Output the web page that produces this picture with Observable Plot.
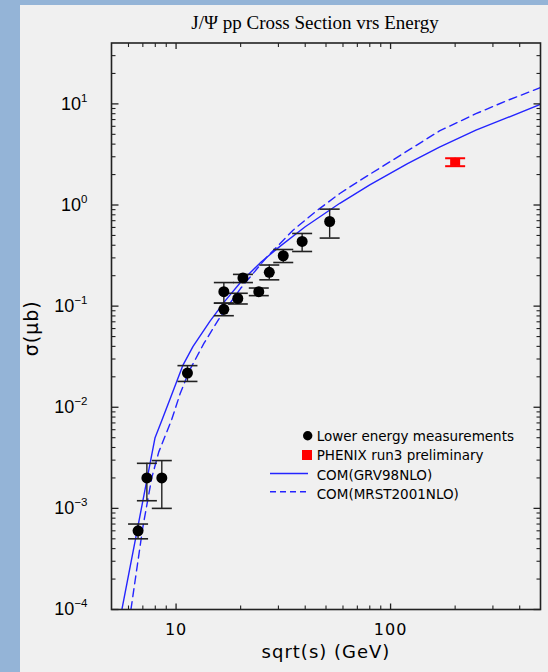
<!DOCTYPE html>
<html><head><meta charset="utf-8">
<script src="https://cdn.jsdelivr.net/npm/d3@7"></script>
<script src="https://cdn.jsdelivr.net/npm/@observablehq/plot@0.6"></script>
<style>
html,body{margin:0;padding:0;}
body{width:548px;height:672px;overflow:hidden;position:relative;background:#94b4d7;}
#panel{position:absolute;left:20px;top:5px;width:528px;height:667px;background:#f0f0f0;}
#title{position:absolute;left:0;top:12.8px;width:630px;text-align:center;font:19px/19px "Liberation Serif",serif;color:#000;white-space:nowrap;}
#chart{position:absolute;left:0;top:0;}
</style></head>
<body>
<div id="panel"></div>
<div id="title">J/Ψ pp Cross Section vrs Energy</div>
<div id="chart"></div>
<script>
// ---- data ----
const lowX  = [6.65, 7.31, 8.58, 11.3, 16.7, 16.7, 19.4, 20.5, 24.3, 27.2, 31.6, 38.7, 52.0];
const lowY  = [6.0e-4, 2.0e-3, 2.0e-3, 0.0218, 0.139, 0.093, 0.119, 0.190, 0.139, 0.216, 0.315, 0.436, 0.687];
const lowLo = [5.0e-4, 1.19e-3, 1.0e-3, 0.018, 0.107, 0.0804, 0.105, 0.171, 0.127, 0.182, 0.270, 0.347, 0.471];
const lowHi = [7.0e-4, 2.79e-3, 2.97e-3, 0.0258, 0.171, 0.107, 0.134, 0.206, 0.151, 0.255, 0.363, 0.523, 0.91];

const phenixX  = [200];
const phenixY  = [2.67];
const phenixLo = [2.42];
const phenixHi = [2.90];

const grvX = [5.59, 7.98, 8.58, 9.5, 10.74, 12, 14.4, 17, 20, 25, 30.5, 40, 58, 80, 120, 169, 250, 350, 500];
const grvY = [1e-4, 5.0e-3, 7.4e-3, 0.013, 0.0258, 0.040, 0.071, 0.114, 0.172, 0.275, 0.39, 0.61, 1.04, 1.58, 2.57, 3.74, 5.5, 7.3, 9.9];

const mrstX = [6.16, 7.0, 7.7, 8.3, 9.55, 10.44, 11.53, 13.5, 16, 20, 26.4, 35, 45, 58, 72, 100, 169, 250, 350, 500];
const mrstY = [1e-4, 6.5e-4, 2.0e-3, 3.6e-3, 7.6e-3, 0.0136, 0.023, 0.043, 0.0773, 0.15, 0.303, 0.56, 0.87, 1.3, 1.75, 2.7, 5.4, 8.0, 10.8, 14.5];

const xMajor = [10, 100];
const xMinor = [6, 7, 8, 9, 20, 30, 40, 50, 60, 70, 80, 90, 200, 300, 400];
const yMajor = [1e-4, 1e-3, 1e-2, 1e-1, 1, 10];
const yMinor = [1e-4, 1e-3, 1e-2, 1e-1, 1].flatMap(d => [2,3,4,5,6,7,8,9].map(k => k * d)).concat([20, 30]);

const xLabel = "sqrt(s) (GeV)";
const yLabel = "σ(μb)";
const legendLabels = ["Lower energy measurements", "PHENIX run3 preliminary", "COM(GRV98NLO)", "COM(MRST2001NLO)"];

// ---- tables ----
const low = lowX.map((x, i) => ({x, y: lowY[i], lo: lowLo[i], hi: lowHi[i]}));
const phenix = phenixX.map((x, i) => ({x, y: phenixY[i], lo: phenixLo[i], hi: phenixHi[i]}));
const grv = grvX.map((x, i) => ({x, y: grvY[i]}));
const mrst = mrstX.map((x, i) => ({x, y: mrstY[i]}));

// ---- custom symbols ----
const hline = w => ({draw(ctx) { ctx.moveTo(-w, 0); ctx.lineTo(w, 0); }});
const tickSym = (dx, dy) => ({draw(ctx) { ctx.moveTo(0, 0); ctx.lineTo(dx, dy); }});
const rectSym = (w, h) => ({draw(ctx) { ctx.rect(-w / 2, -h / 2, w, h); }});

const AX = "#222";
const BLUE = "#2424ff";

const plot = Plot.plot({
  width: 548, height: 672,
  marginLeft: 111, marginRight: 8, marginTop: 42.5, marginBottom: 63,
  style: {background: "transparent", fontFamily: "'DejaVu Sans', sans-serif", color: "#000", overflow: "visible"},
  x: {type: "log", domain: [5, 500]},
  y: {type: "log", domain: [1e-4, 40]},
  marks: [
    Plot.line(grv, {x: "x", y: "y", stroke: BLUE, strokeWidth: 1.4, clip: true}),
    Plot.line(mrst, {x: "x", y: "y", stroke: BLUE, strokeWidth: 1.4, strokeDasharray: "8,5", clip: true}),
    Plot.ruleX(low, {x: "x", y1: "lo", y2: "hi", stroke: AX, strokeWidth: 1.4}),
    Plot.dot(low, {x: "x", y: "lo", symbol: hline(10), r: 1, stroke: AX, fill: "none", strokeWidth: 1.6}),
    Plot.dot(low, {x: "x", y: "hi", symbol: hline(10), r: 1, stroke: AX, fill: "none", strokeWidth: 1.6}),
    Plot.dot(low, {x: "x", y: "y", r: 5.5, fill: "#000", stroke: "none"}),
    Plot.ruleX(phenix, {x: "x", y1: "lo", y2: "hi", stroke: "#ff0000", strokeWidth: 1.6}),
    Plot.dot(phenix, {x: "x", y: "lo", symbol: hline(10), r: 1, stroke: "#ff0000", fill: "none", strokeWidth: 2}),
    Plot.dot(phenix, {x: "x", y: "hi", symbol: hline(10), r: 1, stroke: "#ff0000", fill: "none", strokeWidth: 2}),
    Plot.dot(phenix, {x: "x", y: "y", symbol: rectSym(10, 8), r: 1, fill: "#ff0000", stroke: "none"}),
    // inward ticks on all four sides
    Plot.dot(yMajor, {y: d => d, frameAnchor: "left", symbol: tickSym(7, 0), r: 1, stroke: AX, fill: "none", strokeWidth: 1.3}),
    Plot.dot(yMinor, {y: d => d, frameAnchor: "left", symbol: tickSym(4, 0), r: 1, stroke: AX, fill: "none", strokeWidth: 1.1}),
    Plot.dot(yMajor, {y: d => d, frameAnchor: "right", symbol: tickSym(-7, 0), r: 1, stroke: AX, fill: "none", strokeWidth: 1.3}),
    Plot.dot(yMinor, {y: d => d, frameAnchor: "right", symbol: tickSym(-4, 0), r: 1, stroke: AX, fill: "none", strokeWidth: 1.1}),
    Plot.dot(xMajor, {x: d => d, frameAnchor: "bottom", symbol: tickSym(0, -6), r: 1, stroke: AX, fill: "none", strokeWidth: 1.3}),
    Plot.dot(xMinor, {x: d => d, frameAnchor: "bottom", symbol: tickSym(0, -4), r: 1, stroke: AX, fill: "none", strokeWidth: 1.1}),
    Plot.dot(xMajor, {x: d => d, frameAnchor: "top", symbol: tickSym(0, 6), r: 1, stroke: AX, fill: "none", strokeWidth: 1.3}),
    Plot.dot(xMinor, {x: d => d, frameAnchor: "top", symbol: tickSym(0, 4), r: 1, stroke: AX, fill: "none", strokeWidth: 1.1}),
    Plot.frame({stroke: AX, strokeWidth: 1.6}),
    Plot.axisX({ticks: xMajor, tickSize: 0, tickPadding: 14, tickFormat: d => String(d), label: null}),
    Plot.axisY({ticks: yMajor, tickSize: 0, tickPadding: 24, tickFormat: d => "10|" + Math.round(Math.log10(d)), label: null}),
    Plot.text([xLabel], {text: d => d, frameAnchor: "bottom", dy: 48, fontSize: 18, fill: "#000"}),
    Plot.text([yLabel], {text: d => d, frameAnchor: "left", dx: -80, dy: 30, rotate: -90, fontSize: 19, fill: "#000"})
  ]
});

document.getElementById("chart").appendChild(plot);

const svg = d3.select(plot);
// tick label styling
svg.select('g[aria-label="x-axis tick label"]')
  .attr("font-size", 16).attr("font-family", "'DejaVu Sans', sans-serif").attr("letter-spacing", 1).attr("fill", "#000");
const yl = svg.select('g[aria-label="y-axis tick label"]')
  .attr("font-size", 18).attr("font-family", "'Liberation Sans', Arial, sans-serif").attr("fill", "#000");
yl.selectAll("text").each(function() {
  const t = d3.select(this);
  const [b, e] = t.text().split("|");
  t.text(b);
  t.append("tspan").attr("dy", -8).attr("font-size", 11.5).text(e.replace("-", "\u2212"));
});
svg.selectAll('g[aria-label="text"]').attr("letter-spacing", 1);

// legend
const lg = svg.append("g").attr("font-family", "'DejaVu Sans', sans-serif").attr("font-size", 13.5)
  .attr("fill", "#000").attr("text-anchor", "start");
lg.append("circle").attr("cx", 307.7).attr("cy", 435.7).attr("r", 4.7).attr("fill", "#000");
lg.append("rect").attr("x", 302).attr("y", 450).attr("width", 10).attr("height", 10).attr("fill", "#ff0000");
lg.append("line").attr("x1", 270).attr("x2", 308).attr("y1", 473.5).attr("y2", 473.5).attr("stroke", BLUE).attr("stroke-width", 1.4);
lg.append("line").attr("x1", 270).attr("x2", 308).attr("y1", 491.7).attr("y2", 491.7).attr("stroke", BLUE).attr("stroke-width", 1.4).attr("stroke-dasharray", "6,4");
const base = [440.7, 460.2, 480, 499];
legendLabels.forEach((s, i) => lg.append("text").attr("x", 316.7).attr("y", base[i]).attr("text-anchor", "start").text(s));
</script>
</body></html>
